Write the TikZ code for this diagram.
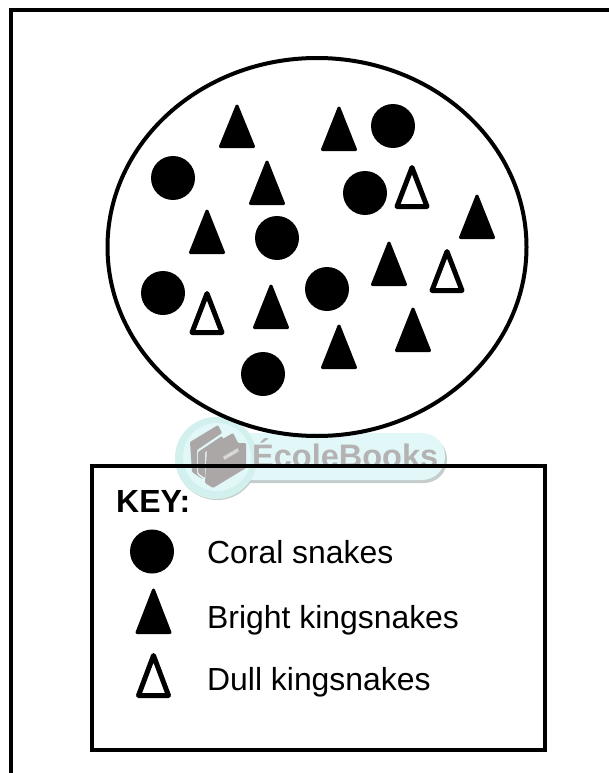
\documentclass[tikz,border=0pt]{standalone}
\usepackage{fontspec}
\setmainfont{Liberation Sans}
\definecolor{wmgray}{HTML}{ABA7A7}
\definecolor{wmtext}{HTML}{B4B2B2}
\definecolor{wmpill}{HTML}{E2F8F8}
\definecolor{wmlobe}{HTML}{D2F0EE}
\definecolor{wmshadow}{HTML}{C4CCCC}
\tikzset{
  x=1pt,y=-1pt,
  framebox/.style={draw=black,line width=4pt,line join=miter},
  snakecircle/.style={circle,fill=black,draw=none,minimum size=44pt,inner sep=0pt},
  label text/.style={anchor=base west,font=\fontsize{31.9}{34}\selectfont,inner sep=0pt},
}
\newcommand{\brighttri}[3]{\fill[black,draw=black,line width=3pt,line join=round] (#1-16.5,#3-1.5) -- (#1,#2+2) -- (#1+16.5,#3-1.5) -- cycle;}
\newcommand{\dulltri}[3]{\draw[black,fill=white,line width=5pt,line join=round] (#1-15,#3-2.5) -- (#1,#2+2.5) -- (#1+15,#3-2.5) -- cycle;}
\begin{document}
\begin{tikzpicture}
\useasboundingbox (0,0) rectangle (609,773);
\fill[white] (0,0) rectangle (609,773);
% outer frame
\coordinate (fa) at (11,780);
\coordinate (fb) at (11,10);
\coordinate (fc) at (615,10);
\draw[framebox] (fa) -- (fb) -- (fc);
% watermark
\fill[wmshadow,rounded corners=23pt] (200,436) rectangle (447,483);
\fill[wmshadow] (217,459) circle [radius=41];
\fill[wmpill,rounded corners=23pt] (200,433) rectangle (445,480);
\fill[wmlobe] (216,458) circle [radius=41];
\fill[wmpill] (217,457) circle [radius=34];
\fill[wmgray,rounded corners=1pt] (190,442) -- (218,425) -- (222,433) -- (197,450) -- (197,474) -- (204,480) -- (192,472) -- cycle;
\fill[wmgray,rounded corners=1pt] (198,452) -- (222,436) -- (224,441) -- (205,452) -- (205,478) -- (198,473) -- cycle;
\fill[wmgray,rounded corners=1pt] (207,448) -- (233,433) -- (238,443) -- (246,443) -- (246,468) -- (213,488) -- (205,483) -- cycle;
\node[rotate=30,inner sep=0.6pt,fill=wmgray!60,text=white,font=\fontsize{3}{3}\selectfont] (wmlabel) at (231,454) {ÉcoleBooks};
\node[anchor=base west,inner sep=0pt,text=wmtext,font=\bfseries\fontsize{32.5}{34}\selectfont] (wm) at (252,467) {ÉcoleBooks};
% population
\draw[black,line width=4pt] (317,247) ellipse [x radius=209.5,y radius=189];
\foreach \x/\y in {173/178,393/126,365/193,277/238,163/293,327/289,263/374}
  \node[snakecircle] at (\x,\y) {};
\brighttri{237}{104}{148}
\brighttri{339}{106}{151}
\brighttri{267}{160}{205}
\brighttri{207}{209}{254}
\brighttri{477}{194}{239}
\brighttri{389}{241}{286}
\brighttri{271}{284}{329}
\brighttri{413}{307}{352}
\brighttri{339}{324}{369}
\dulltri{412}{165}{209}
\dulltri{447}{249}{293}
\dulltri{207}{291}{335}
% key
\draw[framebox] (92,466) rectangle (545,750);
\node[anchor=base west,inner sep=0pt,font=\bfseries\fontsize{32}{34}\selectfont] (key) at (116,512) {KEY:};
\node[snakecircle] (k1) at (152,551.5) {};
\brighttri{153.5}{588}{634}
\dulltri{153.5}{653}{698}
\node[label text] (t1) at (207,563.5) {Coral snakes};
\node[label text] (t2) at (207,628) {Bright kingsnakes};
\node[label text] (t3) at (207,690) {Dull kingsnakes};
\end{tikzpicture}
\end{document}
